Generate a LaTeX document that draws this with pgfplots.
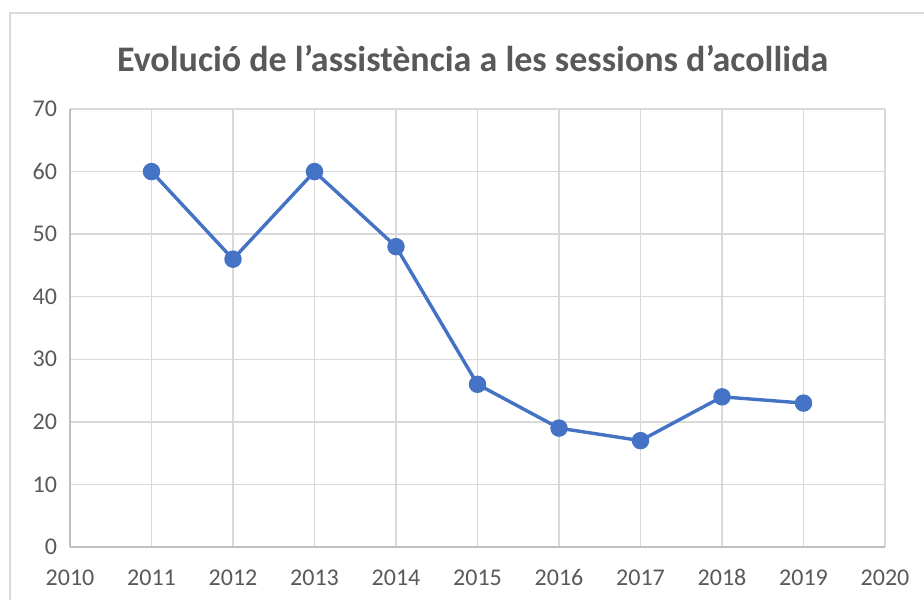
\documentclass[border=0pt]{standalone}
\usepackage{pgfplots}
\pgfplotsset{compat=1.18}
\usepackage{fontspec}
\setmainfont{Carlito}
\definecolor{lineblue}{HTML}{4472C4}
\definecolor{txtgray}{HTML}{595959}
\definecolor{gridgray}{HTML}{D9D9D9}
\definecolor{axgray}{HTML}{BFBFBF}
\begin{document}
\begin{tikzpicture}
\path[use as bounding box, fill=white] (-35pt,-26pt) rectangle (427pt,273.5pt);
\draw[gridgray, line width=1pt] (-30pt,-27pt) -- (-30pt,267pt) -- (428pt,267pt);
\begin{axis}[
  at={(0,0)}, anchor=origin,
  scale only axis,
  width=407.5pt, height=219pt,
  xmin=2010, xmax=2020, ymin=0, ymax=70,
  xtick={2010,2011,...,2020},
  ytick={0,10,...,70},
  xticklabel style={/pgf/number format/1000 sep={}, anchor=base, yshift=-19pt},
  yticklabel style={xshift=-3pt},
  /pgf/number format/assume math mode=true,
  ticklabel style={font=\fontsize{12}{14}\selectfont, text=txtgray},
  major tick length=0pt,
  grid=major,
  grid style={gridgray, line width=0.75pt},
  axis line style={axgray, line width=0.9pt},
  axis x line*=bottom, axis y line*=left,
  title={\textbf{Evolució de l’assistència a les sessions d’acollida}},
  title style={font=\fontsize{18}{21}\selectfont, text=txtgray, at={(0.494,1)}, anchor=south, yshift=9pt},
  clip=false,
]
\addplot[lineblue, line width=1.7pt, mark=*, mark size=3.5pt, mark options={fill=lineblue, draw=lineblue}]
coordinates {(2011,60) (2012,46) (2013,60) (2014,48) (2015,26) (2016,19) (2017,17) (2018,24) (2019,23)};
\end{axis}
\end{tikzpicture}
\end{document}
